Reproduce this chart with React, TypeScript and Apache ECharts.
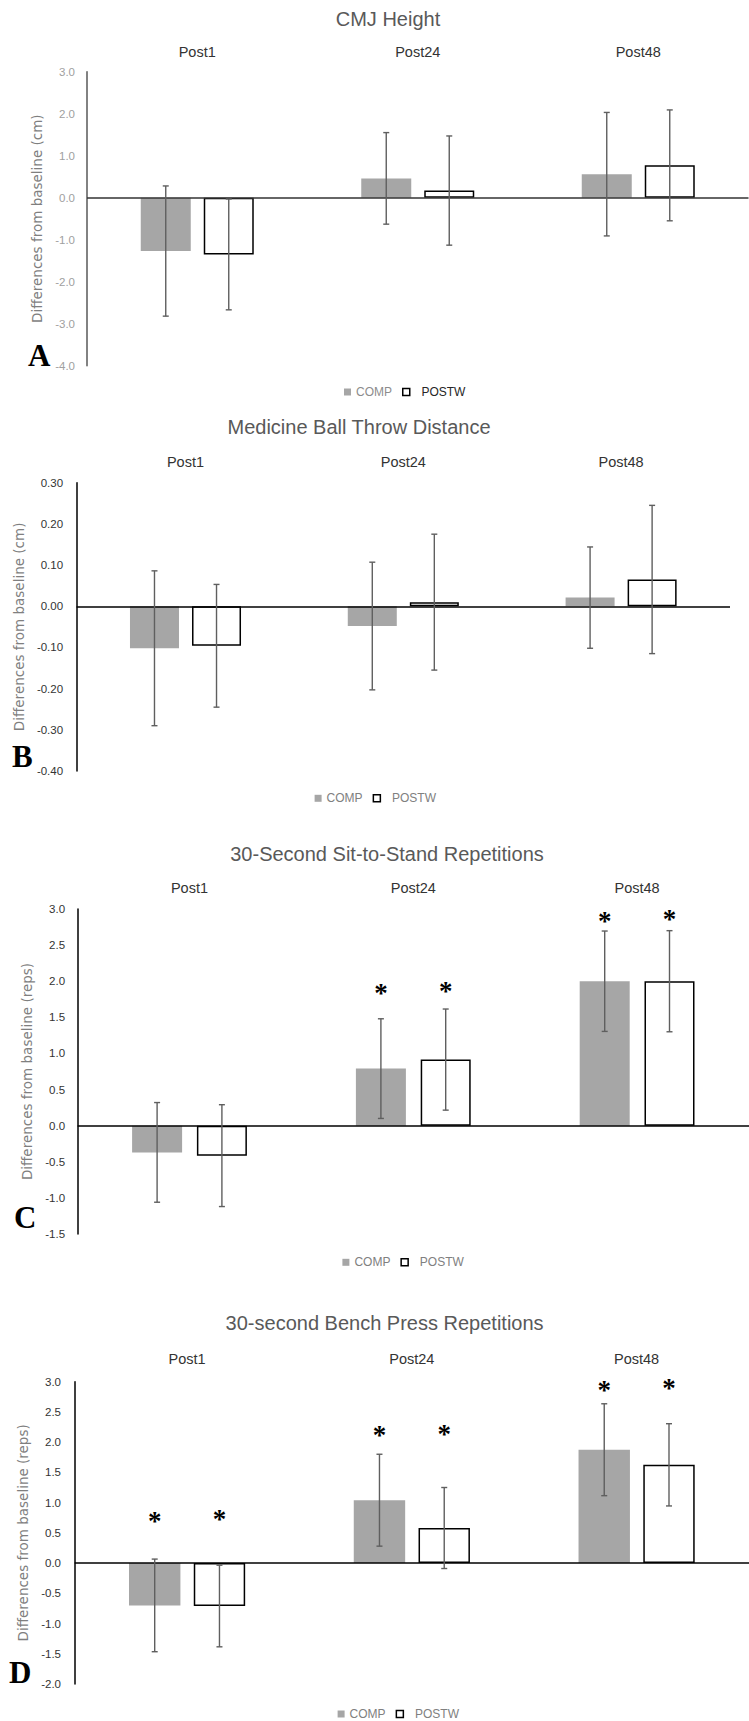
import React, { useEffect, useRef } from "react";
import * as echarts from "echarts";

// ---------- data ----------
const categories = ["Post1", "Post24", "Post48"];
const groupNames = ["COMP", "POSTW"];

// A: CMJ Height (cm)
const cmjComp = [-1.27, 0.46, 0.56];
const cmjCompSd = [1.55, 1.09, 1.47];
const cmjPostw = [-1.35, 0.17, 0.77];
const cmjPostwSd = [1.32, 1.3, 1.32];
const cmjTicks = [-4, 3, 1];

// B: Medicine Ball Throw Distance (cm)
const mbComp = [-0.102, -0.048, 0.021];
const mbCompSd = [0.188, 0.155, 0.123];
const mbPostw = [-0.096, 0.01, 0.065];
const mbPostwSd = [0.149, 0.165, 0.18];
const mbTicks = [-0.4, 0.3, 0.1];

// C: 30-Second Sit-to-Stand Repetitions (reps)
const stsComp = [-0.37, 0.79, 2.0];
const stsCompSd = [0.69, 0.69, 0.695];
const stsPostw = [-0.415, 0.915, 2.0];
const stsPostwSd = [0.705, 0.7, 0.7];
const stsStarComp = [null, 1.88, 2.88];
const stsStarPostw = [null, 1.91, 2.9];
const stsTicks = [-1.5, 3, 0.5];

// D: 30-second Bench Press Repetitions (reps)
const bpComp = [-0.7, 1.04, 1.875];
const bpCompSd = [0.766, 0.76, 0.76];
const bpPostw = [-0.71, 0.58, 1.625];
const bpPostwSd = [0.675, 0.67, 0.68];
const bpStarComp = [0.74, 2.17, 2.91];
const bpStarPostw = [0.78, 2.19, 2.95];
const bpTicks = [-2, 3, 0.5];

const titles = [
  "CMJ Height",
  "Medicine Ball Throw Distance",
  "30-Second Sit-to-Stand Repetitions",
  "30-second Bench Press Repetitions",
];
const letters = ["A", "B", "C", "D"];
const yNames = [
  "Differences from baseline (cm)",
  "Differences from baseline (cm)",
  "Differences from baseline (reps)",
  "Differences from baseline (reps)",
];

// ---------- layout / style ----------
const SANS = "'Liberation Sans', Arial, sans-serif";
const panels = [
  {
    comp: cmjComp, compSd: cmjCompSd, postw: cmjPostw, postwSd: cmjPostwSd,
    starComp: null, starPostw: null, ticks: cmjTicks, dec: 1,
    grid: { left: 87, top: 71.7, width: 661.5, height: 294 },
    titleX: 388, titleY: 19, catMargin: 12.5,
    tickColor: "#a0a0a0", axisColor: "#595959", zeroColor: "#333333",
    nameGap: 39, labelMargin: 12,
    barWidth: 50, barGap: 0.26,
    legendLeft: 344, legendY: 393, compText: "#8c8c8c", postwText: "#262626",
    letterX: 28, letterY: 355.5,
  },
  {
    comp: mbComp, compSd: mbCompSd, postw: mbPostw, postwSd: mbPostwSd,
    starComp: null, starPostw: null, ticks: mbTicks, dec: 2,
    grid: { left: 76.6, top: 482.7, width: 653.4, height: 288.3 },
    titleX: 359, titleY: 427, catMargin: 13.5,
    tickColor: "#333333", axisColor: "#000000", zeroColor: "#000000",
    nameGap: 48, labelMargin: 13.5,
    barWidth: 49, barGap: 0.266,
    legendLeft: 314.6, legendY: 799.3, compText: "#808080", postwText: "#808080",
    letterX: 12, letterY: 756.5,
  },
  {
    comp: stsComp, compSd: stsCompSd, postw: stsPostw, postwSd: stsPostwSd,
    starComp: stsStarComp, starPostw: stsStarPostw, ticks: stsTicks, dec: 1,
    grid: { left: 77.6, top: 909, width: 681, height: 325 },
    titleX: 387, titleY: 854, catMargin: 13.8,
    tickColor: "#333333", axisColor: "#000000", zeroColor: "#000000",
    nameGap: 41, labelMargin: 12.5,
    barWidth: 50, barGap: 0.296,
    legendLeft: 342.4, legendY: 1263.3, compText: "#808080", postwText: "#808080",
    letterX: 14, letterY: 1218,
  },
  {
    comp: bpComp, compSd: bpCompSd, postw: bpPostw, postwSd: bpPostwSd,
    starComp: bpStarComp, starPostw: bpStarPostw, ticks: bpTicks, dec: 1,
    grid: { left: 74.7, top: 1381.7, width: 685.5, height: 302.3 },
    titleX: 384.6, titleY: 1323, catMargin: 15.2,
    tickColor: "#333333", axisColor: "#000000", zeroColor: "#000000",
    nameGap: 44, labelMargin: 13.7,
    barWidth: 51.4, barGap: 0.26,
    legendLeft: 337.6, legendY: 1715, compText: "#808080", postwText: "#808080",
    letterX: 9, letterY: 1672.7,
  },
];

function buildOption() {
  const grid: any[] = [];
  const xAxis: any[] = [];
  const yAxis: any[] = [];
  const series: any[] = [];
  const legend: any[] = [];
  const title: any[] = [];
  const graphic: any[] = [];

  panels.forEach((p, i) => {
    grid.push({ ...p.grid, containLabel: false });
    xAxis.push({
      type: "category",
      gridIndex: i,
      data: categories,
      position: "top",
      axisLine: { show: false },
      axisTick: { show: false },
      axisLabel: { margin: p.catMargin, fontSize: 14.5, color: "#333333", fontFamily: SANS },
    });
    yAxis.push({
      type: "value",
      gridIndex: i,
      min: p.ticks[0],
      max: p.ticks[1],
      interval: p.ticks[2],
      axisLine: { show: true, lineStyle: { color: p.axisColor, width: 1.5 } },
      axisTick: { show: false },
      splitLine: { show: false },
      axisLabel: {
        margin: p.labelMargin,
        fontSize: 11.5,
        color: p.tickColor,
        fontFamily: SANS,
        formatter: (v: number) => (Math.abs(v) < 1e-9 ? 0 : v).toFixed(p.dec),
      },
      name: yNames[i],
      nameLocation: "middle",
      nameGap: p.nameGap,
      nameTextStyle: { fontFamily: "'DejaVu Sans', sans-serif", fontSize: 13.5, color: "#7f7f7f" },
    });

    const offset = (p.barWidth * (1 + p.barGap)) / 2;
    const common = {
      type: "bar",
      xAxisIndex: i,
      yAxisIndex: i,
      barWidth: p.barWidth,
      barGap: p.barGap * 100 + "%",
      silent: true,
    };
    series.push({
      ...common,
      name: groupNames[0],
      data: p.comp,
      itemStyle: { color: "#a6a6a6" },
      z: 2,
      markLine: {
        silent: true,
        symbol: ["none", "none"],
        label: { show: false },
        lineStyle: { color: p.zeroColor, width: 1.5, type: "solid" },
        data: [{ yAxis: 0 }],
      },
    });
    series.push({
      ...common,
      name: groupNames[1],
      data: p.postw,
      itemStyle: { color: "#ffffff", borderColor: "#000000", borderWidth: 1.5 },
      z: 2,
    });

    const errSeries = (vals: number[], sd: number[], dx: number) => ({
      type: "custom",
      xAxisIndex: i,
      yAxisIndex: i,
      silent: true,
      z: 5,
      encode: { x: 0, y: [1, 2] },
      data: vals.map((v, k) => [k, v - sd[k], v + sd[k]]),
      renderItem: (params: any, api: any) => {
        const k = api.value(0);
        const lo = api.coord([k, api.value(1)]);
        const hi = api.coord([k, api.value(2)]);
        const x = lo[0] + dx;
        const st = { stroke: "#5f5f5f", lineWidth: 1.4 };
        const h = 3;
        return {
          type: "group",
          children: [
            { type: "line", shape: { x1: x, y1: hi[1], x2: x, y2: lo[1] }, style: st },
            { type: "line", shape: { x1: x - h, y1: hi[1], x2: x + h, y2: hi[1] }, style: st },
            { type: "line", shape: { x1: x - h, y1: lo[1], x2: x + h, y2: lo[1] }, style: st },
          ],
        };
      },
    });
    series.push(errSeries(p.comp, p.compSd, -offset));
    series.push(errSeries(p.postw, p.postwSd, offset));

    const starSeries = (vals: (number | null)[], dx: number) => ({
      type: "custom",
      xAxisIndex: i,
      yAxisIndex: i,
      silent: true,
      z: 6,
      encode: { x: 0, y: 1 },
      data: vals
        .map((v, k) => (v === null ? null : [k, v]))
        .filter((d) => d !== null),
      renderItem: (params: any, api: any) => {
        const c = api.coord([api.value(0), api.value(1)]);
        return {
          type: "text",
          x: c[0] + dx,
          y: c[1] + 3,
          style: {
            text: "*",
            fill: "#000000",
            fontSize: 27,
            fontWeight: "bold",
            fontFamily: "'Liberation Serif', 'Times New Roman', serif",
            align: "center",
            verticalAlign: "middle",
          },
        };
      },
    });
    if (p.starComp) series.push(starSeries(p.starComp, -offset));
    if (p.starPostw) series.push(starSeries(p.starPostw, offset));

    legend.push({
      left: p.legendLeft,
      top: p.legendY - 7,
      padding: 0,
      itemWidth: 7,
      itemHeight: 7,
      itemGap: 10,
      icon: "rect",
      selectedMode: false,
      formatter: (name: string) => (name === "POSTW" ? "  POSTW" : name),
      textStyle: { fontSize: 12, fontFamily: SANS },
      data: [
        { name: "COMP", textStyle: { color: p.compText } },
        {
          name: "POSTW",
          textStyle: { color: p.postwText },
          itemStyle: { color: "#ffffff", borderColor: "#000000", borderWidth: 1.5 },
        },
      ],
    });

    title.push({
      text: titles[i],
      left: p.titleX,
      top: p.titleY - 10,
      textAlign: "center",
      padding: 0,
      textStyle: { fontSize: 20, fontWeight: "normal", color: "#595959", fontFamily: SANS },
    });

    graphic.push({
      type: "text",
      left: p.letterX,
      top: p.letterY - 16,
      style: {
        text: letters[i],
        fill: "#000000",
        fontSize: 31,
        fontWeight: "bold",
        fontFamily: "'Liberation Serif', 'Times New Roman', serif",
      },
    });
  });

  return { animation: false, backgroundColor: "#ffffff", grid, xAxis, yAxis, series, legend, title, graphic };
}

export default function App() {
  const ref = useRef<HTMLDivElement>(null);
  useEffect(() => {
    if (!ref.current) return;
    const chart = echarts.init(ref.current, undefined, { renderer: "svg" });
    chart.setOption(buildOption() as any);
    return () => chart.dispose();
  }, []);
  return (
    <div
      ref={ref}
      style={{ position: "absolute", left: 0, top: 0, width: 749, height: 1721, overflow: "hidden", background: "#fff" }}
    />
  );
}
